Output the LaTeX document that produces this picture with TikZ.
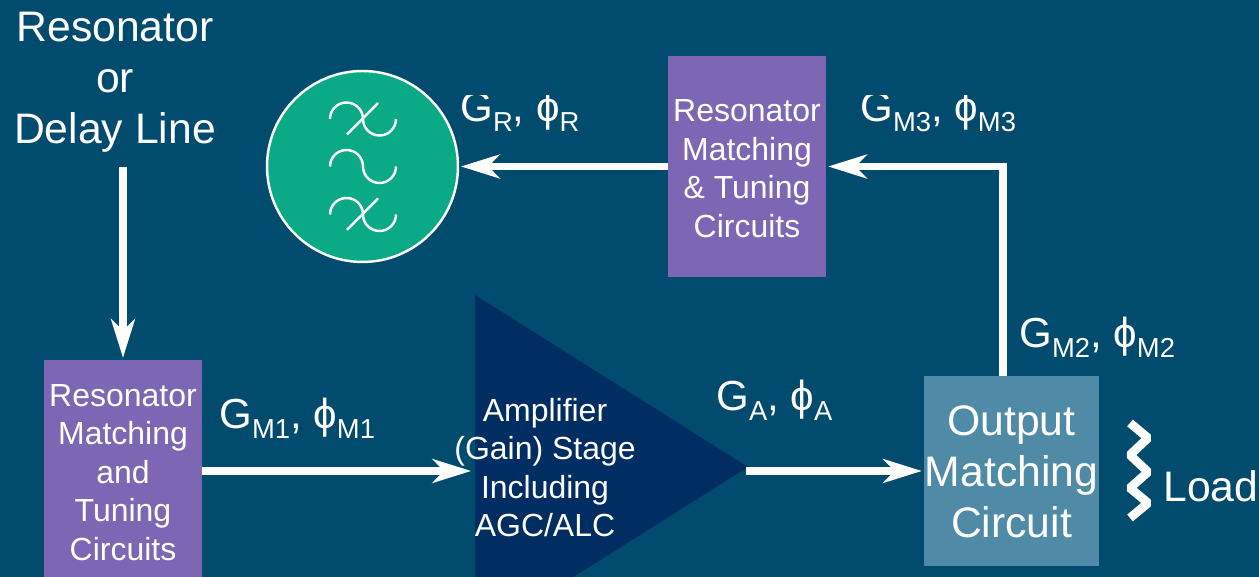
\documentclass[tikz,border=0pt]{standalone}
\usepackage{fontspec}
\setmainfont{Liberation Sans}
\usetikzlibrary{arrows.meta}
\definecolor{bgblue}{HTML}{004B6E}
\definecolor{boxpurple}{HTML}{7D66B3}
\definecolor{resgreen}{HTML}{0AAA87}
\definecolor{ampblue}{HTML}{002E62}
\definecolor{outblue}{HTML}{4F8BA7}
\newcommand{\gsub}[1]{\raisebox{-0.22em}{\fontsize{15.6}{16}\selectfont #1}}
\tikzset{x=0.02cm,y=0.02cm,
	purplebox/.style={fill=boxpurple,text=white,minimum width=3.16cm,inner sep=0pt,align=center,font=\fontsize{18.2}{21.9}\selectfont},
	bigtext/.style={text=white,inner sep=0pt,align=center,font=\fontsize{24.3}{28.9}\selectfont},
	gainlabel/.style={text=white,inner sep=0pt,anchor=base west,font=\fontsize{23.9}{28}\selectfont},
	sigline/.style={draw=white,line width=4.5pt,-{Stealth[length=22pt,width=13.5pt,inset=6.5pt]},shorten >=1pt},
	waveline/.style={draw=white,line width=1.4pt}}

\begin{document}
\begin{tikzpicture}
			\fill[bgblue] (0,0) rectangle (1259,577);
			\clip (0,0) rectangle (1259,577);

			% amplifier triangle runs off the bottom edge
			\fill[ampblue] (475,282) -- (748,110) -- (475,-62) -- cycle;
			\coordinate (ampin) at (473,106);
			\coordinate (ampout) at (746,106);
			\coordinate (delayend) at (123,410);
			\coordinate (bend) at (1003,410.5);

			\node[shape=circle,draw=white,line width=1.4pt,fill=resgreen,minimum size=3.82cm,inner sep=0pt] (res) at (362.5,410.5) {};
			\node[purplebox,minimum height=4.42cm] (rtop) at (747,410.5) {\rule{0pt}{14.8pt}Resonator\\Matching\\\& Tuning\\Circuits};
			\node[purplebox,minimum height=4.44cm] (rleft) at (123,106) {\rule{0pt}{14.3pt}Resonator\\Matching\\and\\Tuning\\Circuits};
			\node[bigtext,fill=outblue,minimum width=3.5cm,minimum height=3.8cm] (omc) at (1011.5,106) {\rule{0pt}{18pt}Output\\Matching\\Circuit};
			\node[text=white,inner sep=0pt,align=center,font=\fontsize{18.2}{21.9}\selectfont] (amp) at (545,109.5) {Amplifier\\(Gain) Stage\\Including\\AGC/ALC};
			\node[bigtext] (restext) at (115,494.5) {Resonator\\or\\Delay Line};
			\node[bigtext] (load) at (1211,91) {Load};

			% gain and phase labels
			\begin{scope}
				\clip (440,300) rectangle (1100,481);
				\node[gainlabel] (gr) at (460,455) {G\gsub{R}, ϕ\gsub{R}};
				\node[gainlabel] (gm3) at (860,455) {G\gsub{M3}, ϕ\gsub{M3}};
			\end{scope}
			\node[gainlabel] (gm2) at (1019,229) {G\gsub{M2}, ϕ\gsub{M2}};
			\node[gainlabel] (gm1) at (219,148) {G\gsub{M1}, ϕ\gsub{M1}};
			\node[gainlabel] (ga) at (716,166) {G\gsub{A}, ϕ\gsub{A}};

			% filter symbols in the resonator
			\foreach \wy in {458,410.5,362.5}
				\draw[waveline] (330,\wy) arc (180:0:16.5) arc (180:360:16.5);
			\foreach \wy in {458,362.5}
				\draw[waveline] (347,\wy-15.5) -- (378,\wy+16);

			% load resistor
			\draw[draw=white,line width=5pt,line join=bevel] (1130,154) -- (1148,139) -- (1130,122) -- (1148,105) -- (1130,89) -- (1148,74) -- (1130,59);

			\draw [sigline](delayend) -- (rleft.north);
			\draw [sigline](rleft.east |- ampin) -- (ampin);
			\draw [sigline](ampout) -- (omc.west);
			\draw [sigline](omc.north -| bend) -- (bend) -- (rtop.east);
			\draw [sigline](rtop.west) -- (res.east);
		\end{tikzpicture}
\end{document}
